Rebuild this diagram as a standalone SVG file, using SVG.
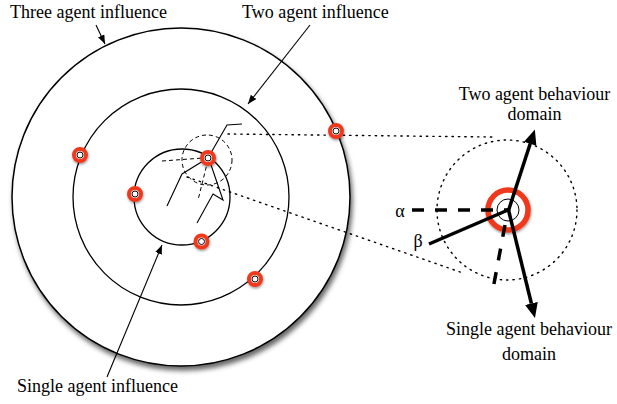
<svg xmlns="http://www.w3.org/2000/svg" width="617" height="404" viewBox="0 0 617 404">
<defs>
<style>
.lbl{font-family:"Liberation Serif","Times New Roman",serif;font-size:18px;fill:#000}
.ring{fill:none;stroke:#000;stroke-width:1.3}
.thin{fill:none;stroke:#000;stroke-width:1.1}
.thick{fill:none;stroke:#000;stroke-width:3.5}
.dot{fill:none;stroke:#000;stroke-width:1.4;stroke-dasharray:1.4 5;stroke-linecap:round}
.dash{fill:none;stroke:#000;stroke-width:1;stroke-dasharray:4 3}
.agent{fill:#fff;stroke:#f0381c;stroke-width:4}
.core{fill:#fff;stroke:#000;stroke-width:1}
</style>
<filter id="sh" x="-10%" y="-10%" width="120%" height="125%">
<feDropShadow dx="2" dy="4" stdDeviation="2.5" flood-color="#000" flood-opacity="0.6"/>
</filter>
<filter id="sh2" x="-50%" y="-50%" width="200%" height="200%">
<feDropShadow dx="0.5" dy="1.5" stdDeviation="1" flood-color="#000" flood-opacity="0.4"/>
</filter>
<marker id="ah" markerUnits="userSpaceOnUse" markerWidth="12" markerHeight="10" refX="9" refY="3.5" orient="auto">
<path d="M0,0 L9,3.5 L0,7 z" fill="#000"/>
</marker>
<marker id="ahb" markerUnits="userSpaceOnUse" markerWidth="16" markerHeight="14" refX="0" refY="6.5" orient="auto">
<path d="M0,0 L15,6.5 L0,13 z" fill="#000"/>
</marker>
</defs>
<rect width="617" height="404" fill="#fff"/>

<g id="three-agent-zone">
<circle cx="181" cy="197" r="169" fill="#fff" stroke="#000" stroke-width="1.5" filter="url(#sh)"/>
</g>
<g id="two-agent-zone">
<circle class="ring" cx="181" cy="197" r="108"/>
</g>
<g id="single-agent-zone">
<circle class="ring" cx="182" cy="197" r="48"/>
</g>

<g id="mini-domain">
<circle class="dash" cx="207" cy="160" r="25" stroke-dasharray="2.5 4"/>
<path class="thin" d="M208,158 L227,125 L242,124"/>
<path class="thin" d="M208,158 L182,174 L167,206"/>
<path class="thin" d="M210,162 L223,200 L213,194 L197,223"/>
<path class="dash" d="M162,161 L203,158"/>
<path class="dash" d="M208,160 L198,200"/>
</g>

<g id="connectors">
<path class="dot" d="M228,134 L492,137"/>
<path class="dot" d="M187,177 L463,273"/>
<line class="thin" x1="96" y1="25" x2="105" y2="44" marker-end="url(#ah)"/>
<line class="thin" x1="310" y1="25" x2="248" y2="104" marker-end="url(#ah)"/>
<line class="thin" x1="107" y1="377" x2="162" y2="245" marker-end="url(#ah)"/>
</g>

<g id="agents">
<g filter="url(#sh2)">
<circle class="agent" cx="80" cy="155" r="6"/>
<circle class="agent" cx="135" cy="194" r="6"/>
<circle class="agent" cx="201.5" cy="241.5" r="6"/>
<circle class="agent" cx="255" cy="279" r="6"/>
<circle class="agent" cx="336" cy="131" r="6"/>
<circle class="agent" cx="208" cy="158" r="6"/>
</g>
<circle class="core" cx="80" cy="155" r="3"/>
<circle class="core" cx="135" cy="194" r="3"/>
<circle class="core" cx="201.5" cy="241.5" r="3"/>
<circle class="core" cx="255" cy="279" r="3"/>
<circle class="core" cx="336" cy="131" r="3"/>
<circle class="core" cx="208" cy="158" r="3"/>
</g>

<g id="behaviour-domain">
<circle class="dot" cx="507" cy="210" r="70"/>
<circle cx="508" cy="210" r="20" fill="#fff" stroke="#f0381c" stroke-width="5.5" filter="url(#sh2)"/>
<circle class="core" cx="508" cy="210" r="11"/>
<line class="thick" x1="412" y1="210" x2="508" y2="210" stroke-dasharray="12 11"/>
<line class="thick" x1="505" y1="225" x2="493" y2="289" stroke-dasharray="12 12"/>
<line class="thick" x1="508" y1="210" x2="429" y2="244"/>
<line class="thick" x1="508" y1="212" x2="530.2" y2="143.8" marker-end="url(#ahb)"/>
<line class="thick" x1="508" y1="208" x2="531.4" y2="303.5" marker-end="url(#ahb)"/>
<text class="lbl" x="400" y="217" text-anchor="middle">α</text>
<text class="lbl" x="418" y="247" text-anchor="middle">β</text>
</g>

<g id="labels">
<text class="lbl" x="10" y="18">Three agent influence</text>
<text class="lbl" x="242" y="18">Two agent influence</text>
<text class="lbl" x="17" y="392">Single agent influence</text>
<text class="lbl" x="534.5" y="100" text-anchor="middle">Two agent behaviour</text>
<text class="lbl" x="534.5" y="120" text-anchor="middle">domain</text>
<text class="lbl" x="529" y="335" text-anchor="middle">Single agent behaviour</text>
<text class="lbl" x="529" y="360" text-anchor="middle">domain</text>
</g>
</svg>
